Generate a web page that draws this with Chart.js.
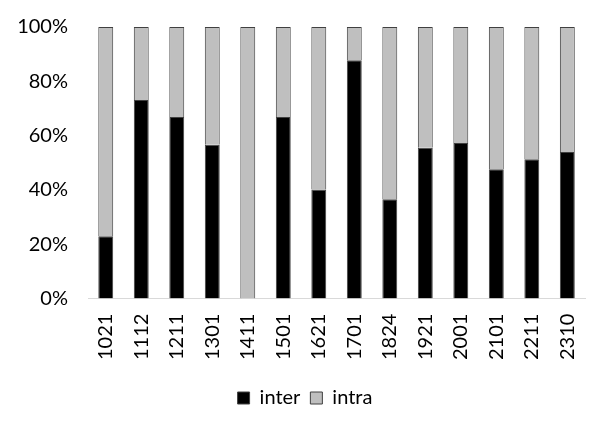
<!DOCTYPE html>
<html>
<head>
<meta charset="utf-8">
<script src="https://cdn.jsdelivr.net/npm/chart.js@4"></script>
<style>
  html, body { margin: 0; padding: 0; background: #fff; }
  #wrap { width: 607px; height: 424px; }
</style>
</head>
<body>
<div id="wrap"><canvas id="chart" width="607" height="424"></canvas></div>
<script>
const labels = ['1021', '1112', '1211', '1301', '1411', '1501', '1621', '1701', '1824', '1921', '2001', '2101', '2211', '2310'];
const inter = [23.0, 73.1, 66.9, 56.6, 0, 66.9, 40.2, 87.8, 36.6, 55.5, 57.3, 47.6, 51.3, 54.0];
const intra = [77.0, 26.9, 33.1, 43.4, 100, 33.1, 59.8, 12.2, 63.4, 44.5, 42.7, 52.4, 48.7, 46.0];

const font = { family: 'Lato', size: 20 };

// legend in the original sits centred on the whole picture, not on the padded area
const legendShift = {
  id: 'legendShift',
  afterLayout(chart) {
    chart.legend.left += 11;
    chart.legend.right += 11;
  }
};

new Chart(document.getElementById('chart').getContext('2d'), {
  type: 'bar',
  data: {
    labels: labels,
    datasets: [
      { label: 'inter', data: inter, backgroundColor: '#000000', borderColor: '#404040', borderWidth: 1 },
      { label: 'intra', data: intra, backgroundColor: '#bfbfbf', borderColor: '#404040', borderWidth: 1 }
    ]
  },
  options: {
    responsive: false,
    animation: false,
    layout: { padding: { top: 10, right: 19, bottom: 6, left: 0 } },
    datasets: { bar: { barPercentage: 0.42, categoryPercentage: 1 } },
    plugins: {
      tooltip: { enabled: false },
      legend: {
        position: 'bottom',
        labels: { color: '#000', font: font, boxWidth: 12, boxHeight: 12, padding: 10 }
      }
    },
    scales: {
      x: {
        stacked: true,
        grid: { display: false, drawTicks: false },
        border: { display: true, color: '#d9d9d9', width: 1 },
        ticks: { color: '#000', font: font, minRotation: 90, maxRotation: 90, padding: 15 },
        afterFit: s => { s.height += 3; }
      },
      y: {
        stacked: true,
        min: 0,
        max: 100,
        grid: { display: false, drawTicks: false },
        border: { display: false },
        // small lineHeight keeps the top padding of the axis at 27px
        ticks: { color: '#000', font: { family: 'Lato', size: 20, lineHeight: 0.7 }, stepSize: 20, padding: 20, callback: v => v + '%' },
        afterFit: s => { s.width = 88; }
      }
    }
  },
  plugins: [legendShift]
});
</script>
</body>
</html>
